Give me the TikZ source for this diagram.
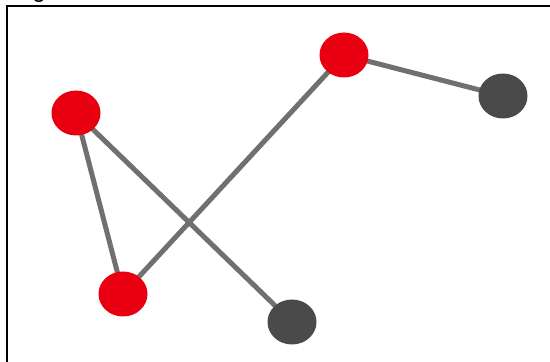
\documentclass[tikz,border=0pt]{standalone}
\usepackage{fontspec}
\setmainfont{Liberation Sans}
\usetikzlibrary{shapes.geometric}
\begin{document}
\begin{tikzpicture}[x=1pt,y=1pt,
  vertex/.style={ellipse,inner sep=0pt,minimum width=49pt,minimum height=45pt},
  hot/.style={vertex,fill={rgb,255:red,232;green,0;blue,16}},
  cold/.style={vertex,fill={rgb,255:red,74;green,74;blue,74}},
  link/.style={line width=5pt,draw={rgb,255:red,112;green,112;blue,112}},
  frame/.style={line width=2pt,draw=black}]
  \useasboundingbox (0,0) rectangle (550,362);
  % caption letter above the frame, only its descender falls on the page
  \node[anchor=base,font=\fontsize{24}{28}\selectfont,inner sep=0pt] (cap) at (39,364.5) {g};
  % frame
  \coordinate (f0) at (7,0);
  \coordinate (f1) at (7,355.5);
  \coordinate (f2) at (552,355.5);
  \draw[frame] (f0) -- (f1) -- (f2);
  % vertex positions
  \coordinate (a) at (76,249);
  \coordinate (b) at (344,307);
  \coordinate (c) at (123,68);
  \coordinate (d) at (503,266);
  \coordinate (e) at (292,40);
  % links
  \draw[link] (a) -- (c);
  \draw[link] (a) -- (e);
  \draw[link] (c) -- (b);
  \draw[link] (b) -- (d);
  % vertices over the links
  \node[hot]  (na) at (a) {};
  \node[hot]  (nb) at (b) {};
  \node[hot]  (nc) at (c) {};
  \node[cold] (nd) at (d) {};
  \node[cold] (ne) at (e) {};
\end{tikzpicture}
\end{document}
